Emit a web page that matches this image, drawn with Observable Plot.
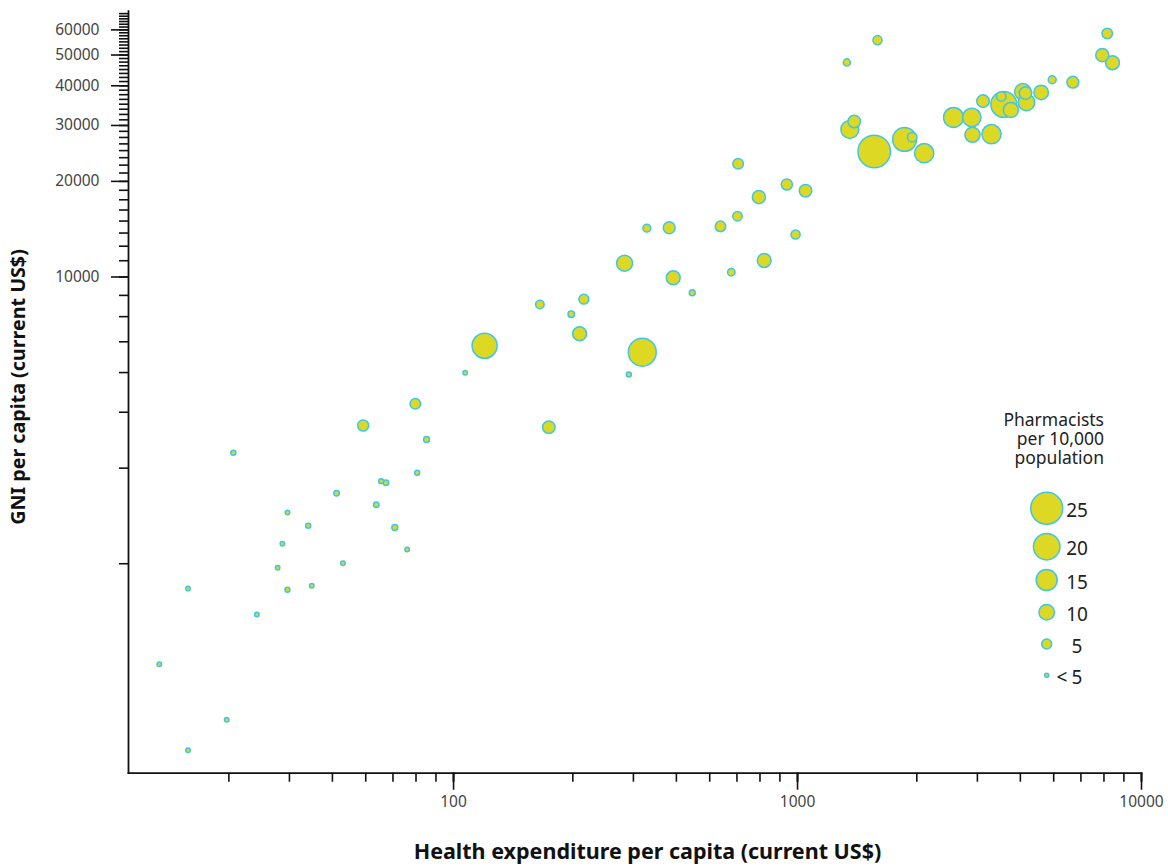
<!DOCTYPE html>
<html>
<head>
<meta charset="utf-8">
<script src="https://cdn.jsdelivr.net/npm/d3@7"></script>
<script src="https://cdn.jsdelivr.net/npm/@observablehq/plot@0.6"></script>
<style>
  html, body { margin: 0; padding: 0; background: #fff; }
  #chart svg { display: block; }
</style>
</head>
<body>
<div id="chart"></div>
<script>
// ---------------- data ----------------
const healthExp = [
  54.6, 83.5, 22.9, 78.4, 61.6, 63.6, 45.7, 59.6, 32.9, 37.8,
  67.5, 31.8, 73.3, 30.8, 47.7, 16.9, 32.9, 38.7, 26.8, 13.95,
  21.9, 16.9, 77.4, 672, 931, 1055, 772, 669, 597, 364.7,
  423.6, 987, 314.2, 800, 435.2, 641.7, 494.2, 178.2, 239.2, 219.9,
  232.5, 123.1, 353.7, 108.1, 323.3, 189.2, 7950, 1708, 1391, 7689,
  8235, 5500, 6317, 5109, 4519, 4600, 4631, 3978, 3910, 4170,
  3462, 2841, 3211, 3226, 3664, 1462, 1419, 1671, 2047, 2155,
  2335
];
const gniPerCapita = [
  3406, 3078, 2795, 2417, 2275, 2248, 2085, 1916, 1813, 1646,
  1626, 1444, 1386, 1214, 1255, 1044, 1035, 1065, 865, 603,
  403, 323, 3988, 22730, 19560, 18690, 17840, 15540, 14430, 14250,
  14290, 13610, 11050, 11270, 9942, 10354, 8916, 8192, 8513, 7636,
  6623, 6073, 5796, 4993, 4931, 3364, 58460, 55690, 47380, 49950,
  47280, 41800, 41070, 38120, 38310, 37930, 35450, 34940, 37020, 33570,
  35790, 31800, 31800, 28040, 28170, 30890, 29150, 24850, 27110, 27560,
  24540
];
const pharmacists = [
  6.0, 1.3, 0.5, 0.4, 0.4, 0.9, 0.9, 0.9, 0.0, 0.5,
  1.3, 0.0, 0.0, 0.0, 0.0, 0.0, 0.5, 0.0, 0.0, 0.0,
  0.0, 0.0, 5.5, 5.5, 6.0, 7.3, 7.8, 4.5, 5.5, 3.1,
  6.7, 4.2, 10.4, 8.5, 8.5, 2.7, 1.3, 3.6, 4.9, 1.8,
  8.5, 18.7, 21.3, 0.0, 0.5, 7.3, 5.5, 4.2, 2.4, 7.8,
  8.5, 3.1, 6.7, 9.1, 10.9, 7.3, 10.9, 19.5, 4.5, 9.6,
  7.3, 14.0, 12.7, 9.6, 13.3, 7.3, 12.2, 25.5, 17.6, 4.5,
  13.3
];

const xTickLabels = [100, 1000, 10000];
const yTickLabels = [10000, 20000, 30000, 40000, 50000, 60000];
const legendValues = [25, 20, 15, 10, 5, 0];
const legendLabels = ["25", "20", "15", "10", "5", "<5"];
const legendTitle = ["Pharmacists", "per 10,000", "population"];
const xTitle = "Health expenditure per capita (current US$)";
const yTitle = "GNI per capita (current US$)";

// ---------------- build ----------------
const xDomain = [11.35, 10000];
const yDomain = [273.7, 68700];

const xMinor = [];
for (const p of [100, 1000, 10000]) for (let k = 2; k <= 9; k++) xMinor.push(k * p / 9);
xMinor.push(...xTickLabels);
const xMinorTicks = xMinor.filter(v => v >= xDomain[0] && v <= xDomain[1]);

const yMinorTicks = d3.range(1, 60).map(k => k * 1250).filter(v => v >= yDomain[0] && v <= yDomain[1]);

const data = healthExp.map((x, i) => ({x, y: gniPerCapita[i], p: pharmacists[i]}));

const FILL = "#dcd823";
const STROKE = "#3ec6e6";
const FONT = "'Noto Sans', 'Open Sans', sans-serif";

const chart = Plot.plot({
  width: 1168,
  height: 867,
  marginLeft: 128,
  marginRight: 27,
  marginTop: 10.7,
  marginBottom: 94.3,
  style: {fontFamily: FONT, fontSize: "15.5px", color: "#111", background: "#fff"},
  x: {type: "log", domain: xDomain},
  y: {type: "log", domain: yDomain},
  r: {type: "linear", domain: [0, 25], range: [2.25, 16]},
  marks: [
    Plot.axisX(xMinorTicks, {tickSize: 9, tickFormat: () => "", label: null, strokeWidth: 1.6}),
    Plot.axisX(xTickLabels, {tickSize: 17, tickPadding: 6, tickFormat: d3.format("d"), label: null, strokeWidth: 1.6}),
    Plot.axisY(yMinorTicks, {tickSize: 9, tickFormat: () => "", label: null, strokeWidth: 1.6}),
    Plot.axisY(yTickLabels, {tickSize: 17, tickPadding: 12, tickFormat: d3.format("d"), label: null, strokeWidth: 1.6}),
    Plot.frame({anchor: "bottom", strokeWidth: 1.8}),
    Plot.frame({anchor: "left", strokeWidth: 1.8}),
    Plot.dot(data, {x: "x", y: "y", r: "p", fill: FILL, stroke: STROKE, strokeWidth: 1.5})
  ]
});

const svg = d3.select(chart);
svg.selectAll('g[aria-label="x-axis tick label"], g[aria-label="y-axis tick label"]').attr("fill", "#444");

// axis titles
svg.append("text")
  .attr("x", 647.5).attr("y", 858.5)
  .attr("text-anchor", "middle")
  .attr("font-family", FONT).attr("font-size", 21.5).attr("font-weight", "bold")
  .attr("fill", "#111")
  .text(xTitle);

svg.append("text")
  .attr("transform", "translate(25,387) rotate(-90)")
  .attr("text-anchor", "middle")
  .attr("font-family", FONT).attr("font-size", 19.7).attr("font-weight", "bold")
  .attr("fill", "#111")
  .text(yTitle);

// legend
const rScale = chart.scale("r");
const lg = svg.append("g").attr("font-family", FONT);
const lt = lg.append("text").attr("text-anchor", "end").attr("font-size", 17.5).attr("fill", "#222");
legendTitle.forEach((t, i) => {
  lt.append("tspan").attr("x", 1104).attr("y", 426 + i * 18.8).text(t);
});
const rowY = [508.3, 546.7, 580, 612.3, 644, 675.3];
legendValues.forEach((v, i) => {
  const r = v === 0 ? 2 : rScale.apply(v);
  lg.append("circle").attr("cx", 1046.7).attr("cy", rowY[i]).attr("r", r)
    .attr("fill", FILL).attr("stroke", STROKE).attr("stroke-width", 1.5);
  const lab = legendLabels[i];
  const t = lg.append("text")
    .attr("y", rowY[i] + 2).attr("dy", "0.35em")
    .attr("font-size", 19).attr("fill", "#222");
  if (lab.startsWith("<")) {
    t.append("tspan").attr("x", 1062).text("<");
    t.append("tspan").attr("x", 1077).text(lab.slice(1));
  } else {
    t.attr("x", 1077).text(lab);
  }
});

document.getElementById("chart").appendChild(chart);
</script>
</body>
</html>
